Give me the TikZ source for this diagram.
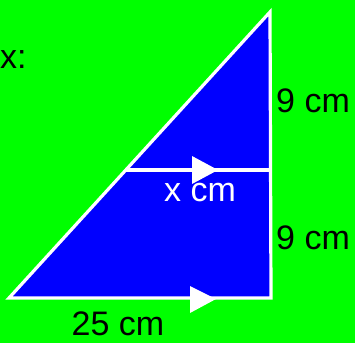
\documentclass[tikz,border=0pt]{standalone}
\usepackage{fontspec}
\setmainfont{Liberation Sans}
\begin{document}
\begin{tikzpicture}[x=1pt,y=-1pt,
  lbl/.style={inner sep=0pt, font=\fontsize{34}{38}\selectfont},
  edge/.style={draw=white, line width=3.2pt, line join=miter},
  tip/.style={fill=white}]
\fill[green] (0,0) rectangle (355,343);
\useasboundingbox (0,0) rectangle (355,343);
\coordinate (A) at (270,12);
\coordinate (B) at (9,298);
\coordinate (C) at (271,298);
\coordinate (D) at (125,170);
\coordinate (E) at (270,170);
\fill[blue] (A) -- (B) -- (C) -- cycle;
\draw[edge] (A) -- (B) -- (C) -- cycle;
\draw[edge] (D) -- (E);
\fill[tip] (192,156) -- (218,170) -- (192,184) -- cycle;
\fill[tip] (190,286) -- (216,299) -- (190,313) -- cycle;
\node[lbl, anchor=west] (xl) at (0,60) {x:};
\node[lbl, anchor=west] (n1) at (276,101) {9 cm};
\node[lbl, anchor=west] (n2) at (276,238) {9 cm};
\node[lbl, text=white] (xc) at (200,193) {x cm};
\node[lbl] (n3) at (118,324) {25 cm};
\end{tikzpicture}
\end{document}
